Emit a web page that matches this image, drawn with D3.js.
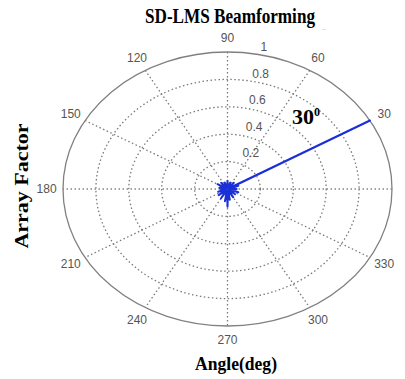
<!DOCTYPE html>
<html><head><meta charset="utf-8">
<script src="https://cdn.jsdelivr.net/npm/d3@7"></script>
<style>body{margin:0;background:#fff}svg{display:block}</style>
</head><body>
<svg id="c" width="405" height="379"></svg>
<script>
// ---- data ----
const chartTitle = "SD-LMS Beamforming";
const xLabel = "Angle(deg)";
const yLabel = "Array Factor";
const annotation = "30";
const angleTicks = [0,30,60,90,120,150,180,210,240,270,300,330];
const radialTicks = [0.2,0.4,0.6,0.8,1];
const patternAngles = [0,10,20,28,30,32,40,50,60,70,80,90,100,110,120,130,140,150,160,170,180,190,200,210,220,230,240,250,260,265,270,275,280,290,300,310,320,330,340,350,360];
const patternAF =     [0.06,0.01,0.07,0.03,1.0,0.03,0.01,0.06,0.01,0.05,0.01,0.06,0.01,0.05,0.01,0.06,0.01,0.07,0.01,0.05,0.04,0.01,0.06,0.01,0.07,0.01,0.08,0.01,0.09,0.02,0.13,0.03,0.08,0.01,0.07,0.01,0.06,0.01,0.07,0.01,0.06];

// ---- layout ----
const svg = d3.select("#c");
const cx = 227.5, cy = 189, rx = 164.5, ry = 137;
const sx = d3.scaleLinear().domain([0,1]).range([0,rx]);
const sy = d3.scaleLinear().domain([0,1]).range([0,ry]);
const rad = d3.scaleLinear().domain([0,360]).range([0,2*Math.PI]);
const px = (r,a)=> cx + sx(r)*Math.cos(rad(a));
const py = (r,a)=> cy - sy(r)*Math.sin(rad(a));
const g = svg.append("g");
const gridColor = "#7a7a7a";

// dotted rings
g.selectAll("ellipse.ring").data(radialTicks.filter(d=>d<1)).enter().append("ellipse")
  .attr("cx",cx).attr("cy",cy).attr("rx",d=>sx(d)).attr("ry",d=>sy(d))
  .attr("fill","none").attr("stroke",gridColor).attr("stroke-width",1.3)
  .attr("stroke-dasharray","1.5,2.5");
// spokes
g.selectAll("line.spoke").data(angleTicks.filter(d=>d<180)).enter().append("line")
  .attr("x1",d=>px(1,d)).attr("y1",d=>py(1,d))
  .attr("x2",d=>px(1,d+180)).attr("y2",d=>py(1,d+180))
  .attr("stroke",d=>d===0?"#7f8f7a":gridColor).attr("stroke-width",1.3)
  .attr("stroke-dasharray","1.5,2.5");
// outer ring
g.append("ellipse").attr("cx",cx).attr("cy",cy).attr("rx",sx(1)).attr("ry",sy(1))
  .attr("fill","none").attr("stroke","#808080").attr("stroke-width",1.3);

// angle labels
g.selectAll("text.ang").data(angleTicks).enter().append("text")
  .attr("x",d=>px(1.1,d)).attr("y",d=>py(1.1,d)+4)
  .attr("text-anchor","middle").attr("font-family","Liberation Sans, Arial, sans-serif")
  .attr("font-size",12).attr("fill","#555").text(d=>d);
// radial labels
g.selectAll("text.rad").data(radialTicks).enter().append("text")
  .attr("x",d=>cx+20+sx(d)*0.1).attr("y",d=>cy - 9.5 - sy(d)*0.967 + 4)
  .attr("text-anchor","middle").attr("font-family","Liberation Sans, Arial, sans-serif")
  .attr("font-size",12).attr("fill","#555").text(d=>d);

// pattern
const pts = patternAngles.map((a,i)=>[a,patternAF[i]]);
const line = d3.line().x(d=>px(d[1],d[0])).y(d=>py(d[1],d[0]));
g.append("path").attr("d",line(pts)).attr("fill","none")
  .attr("stroke","#1a2fd6").attr("stroke-width",2).attr("stroke-linejoin","round");

// texts
const serif = "Liberation Serif, Times New Roman, serif";
const title = svg.append("text").attr("x",145).attr("y",23)
  .attr("font-family",serif).attr("font-weight","bold").attr("font-size",21);
title.append("tspan").attr("textLength",170).attr("lengthAdjust","spacingAndGlyphs").text(chartTitle);
title.append("tspan").attr("dx",7).attr("dy",6).attr("font-size",7).attr("font-weight","normal")
  .attr("fill","#aaa").text("_");
svg.append("text").attr("x",236).attr("y",370).attr("text-anchor","middle")
  .attr("font-family",serif).attr("font-weight","bold").attr("font-size",19)
  .attr("textLength",82).attr("lengthAdjust","spacingAndGlyphs").text(xLabel);
svg.append("text").attr("transform","translate(28,186) rotate(-90)").attr("text-anchor","middle")
  .attr("font-family",serif).attr("font-weight","bold").attr("font-size",19)
  .attr("textLength",125).attr("lengthAdjust","spacingAndGlyphs").text(yLabel);
const ann = svg.append("text").attr("x",292).attr("y",124)
  .attr("font-family",serif).attr("font-weight","bold").attr("font-size",22).text(annotation);
ann.append("tspan").attr("font-size",12).attr("dy",-8).text("0");
</script>
</body></html>
